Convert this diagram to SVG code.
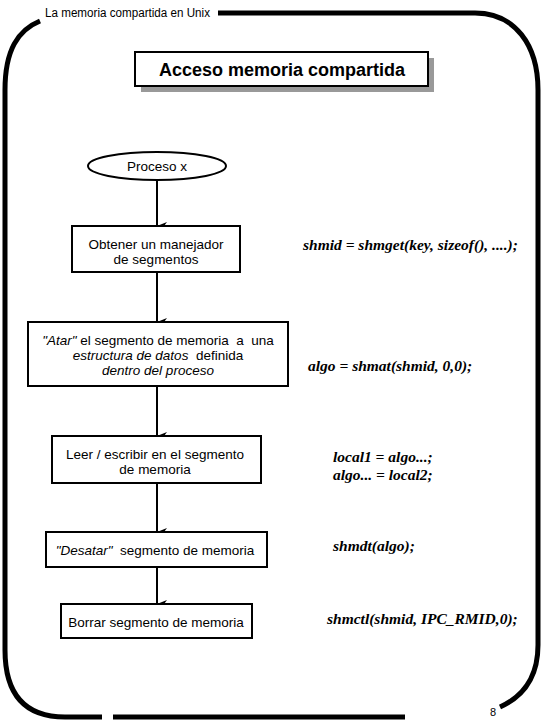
<svg xmlns="http://www.w3.org/2000/svg" width="545" height="727" viewBox="0 0 545 727">
<defs>
<style>
.frame{fill:none;stroke:#000;stroke-width:5}
.box{fill:#fff;stroke:#000;stroke-width:2}
.t{font-family:"Liberation Sans",Arial,sans-serif;font-size:13.5px;fill:#000;text-anchor:middle}
.code{font-family:"Liberation Serif","Times New Roman",serif;font-size:15.5px;font-weight:bold;font-style:italic;fill:#000}
.conn{stroke:#000;stroke-width:2;fill:none}
</style>
<marker id="ah" viewBox="0 0 8 10" refX="4" refY="10" markerWidth="8" markerHeight="10" markerUnits="userSpaceOnUse" orient="auto-start-reverse">
<path d="M0,0 L4,3 L8,0 L4,10 Z" fill="#000"/>
</marker>
</defs>
<rect width="545" height="727" fill="#fff"/>
<g id="frame">
<path class="frame" d="M40,21 C18,30 5,50 5,90 L5,650 C5,695 25,717 65,717 L102,717"/>
<path class="frame" d="M113,717 L405,717"/>
<path class="frame" d="M218,13 L475,13 C515,13 538,45 538,90 L538,645 C538,680 520,698 500,707"/>
<text x="45" y="17" font-family="Liberation Sans,Arial,sans-serif" font-size="12" textLength="165" lengthAdjust="spacingAndGlyphs" fill="#000">La memoria compartida en Unix</text>
<text x="490" y="716" font-family="Liberation Sans,Arial,sans-serif" font-size="11" fill="#000">8</text>
</g>
<g id="title">
<rect x="141" y="58" width="293" height="34" fill="#999"/>
<rect x="135" y="52" width="293" height="34" fill="#fff" stroke="#000" stroke-width="2"/>
<text x="282" y="76" font-family="Liberation Sans,Arial,sans-serif" font-size="18" font-weight="bold" text-anchor="middle" fill="#000">Acceso memoria compartida</text>
</g>
<g id="connectors">
<line class="conn" x1="157" y1="180" x2="157" y2="226" marker-end="url(#ah)"/>
<line class="conn" x1="157" y1="272" x2="157" y2="322" marker-end="url(#ah)"/>
<line class="conn" x1="157" y1="386" x2="157" y2="436" marker-end="url(#ah)"/>
<line class="conn" x1="157" y1="483" x2="157" y2="532" marker-end="url(#ah)"/>
<line class="conn" x1="157" y1="567" x2="157" y2="604" marker-end="url(#ah)"/>
</g>
<g id="n0">
<ellipse cx="157" cy="166" rx="69" ry="14" class="box"/>
<text x="157" y="171" class="t">Proceso x</text>
</g>
<g id="n1">
<rect x="72" y="226" width="168" height="46" class="box"/>
<text x="156" y="249" class="t">Obtener un manejador</text>
<text x="156" y="264" class="t">de segmentos</text>
</g>
<g id="n2">
<rect x="28" y="322" width="260" height="64" class="box"/>
<text x="158" y="345" class="t" style="white-space:pre" xml:space="preserve"><tspan font-style="italic">"Atar"</tspan> el segmento de memoria  a  una</text>
<text x="158" y="360" class="t" style="white-space:pre" xml:space="preserve"><tspan font-style="italic">estructura de datos</tspan>  definida</text>
<text x="158" y="375" class="t" font-style="italic">dentro del proceso</text>
</g>
<g id="n3">
<rect x="52" y="436" width="209" height="47" class="box"/>
<text x="155" y="459" class="t">Leer / escribir en el segmento</text>
<text x="155" y="474" class="t">de memoria</text>
</g>
<g id="n4">
<rect x="46" y="532" width="221" height="35" class="box"/>
<text x="155" y="555" class="t" style="white-space:pre" xml:space="preserve"><tspan font-style="italic">"Desatar"</tspan>  segmento de memoria</text>
</g>
<g id="n5">
<rect x="61" y="604" width="191" height="34" class="box"/>
<text x="156" y="627" class="t">Borrar segmento de memoria</text>
</g>
<g id="code">
<text x="303" y="250" class="code">shmid = shmget(key, sizeof(), ....);</text>
<text x="308" y="371" class="code">algo = shmat(shmid, 0,0);</text>
<text x="333" y="462" class="code">local1 = algo...;</text>
<text x="333" y="480" class="code">algo... = local2;</text>
<text x="333" y="551" class="code">shmdt(algo);</text>
<text x="327" y="624" class="code">shmctl(shmid, IPC_RMID,0);</text>
</g>
</svg>
